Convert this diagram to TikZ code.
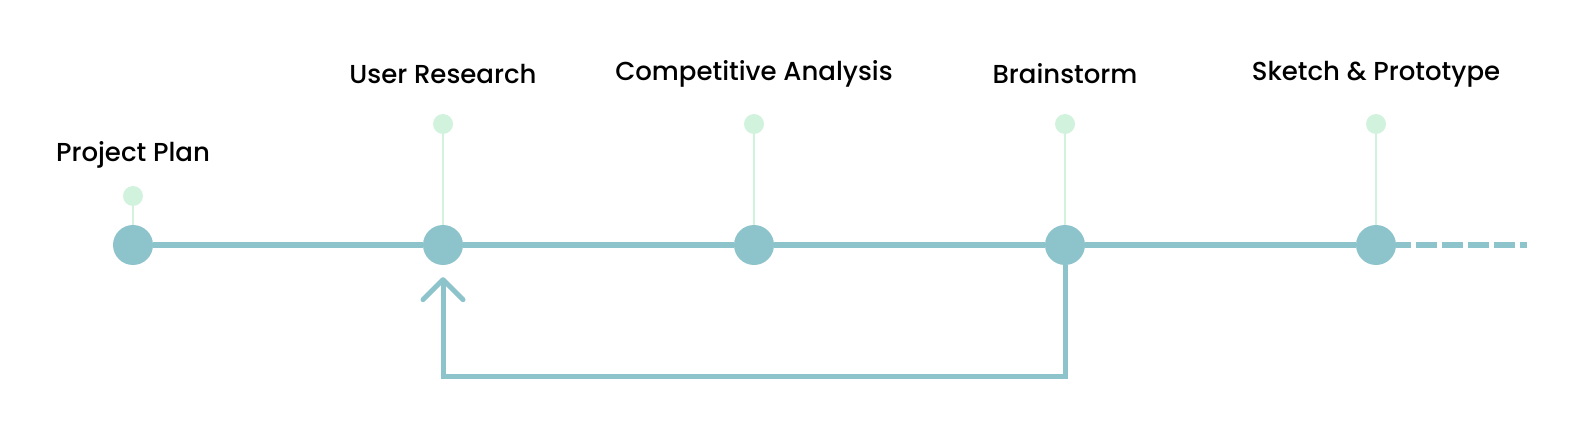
\documentclass[tikz,border=0pt]{standalone}
\usepackage{fontspec}
\setmainfont{Poppins}[BoldFont={* Medium}]
\usetikzlibrary{positioning, arrows.meta, calc}
\definecolor{tealline}{RGB}{141,196,204}
\definecolor{mintdot}{RGB}{209,242,220}

\begin{document}
\begin{tikzpicture}[
    x=1pt, y=-1pt,
    milestone/.style={circle, fill=tealline, minimum size=40pt, inner sep=0pt},
    pin/.style={circle, fill=mintdot, minimum size=20pt, inner sep=0pt},
    stem/.style={draw=mintdot, line width=2pt},
    title/.style={font=\fontsize{26}{31}\selectfont\bfseries, text=black},
    track/.style={draw=tealline, line width=6pt},
    loopback/.style={draw=tealline, line width=5pt, -{Straight Barb[length=20pt, width=40pt, round]}},
]
    \useasboundingbox (0,0) rectangle (1579,433);

    % Timeline
    \node[milestone] (plan) at (133,245) {};
    \node[milestone] (user) at (443,245) {};
    \node[milestone] (comp) at (754,245) {};
    \node[milestone] (brain) at (1065,245) {};
    \node[milestone] (sketch) at (1376,245) {};
    \coordinate (solidend) at (1411,245);
    \coordinate (tailend) at (1527,245);

    \draw[track] (plan) -- (user);
    \draw[track] (user) -- (comp);
    \draw[track] (comp) -- (brain);
    \draw[track] (brain) -- (sketch);
    \draw[track] (sketch) -- (solidend);
    \draw[track, dash pattern=on 21pt off 5pt] ([xshift=5pt]solidend) -- (tailend);

    % Pins
    \node[pin] (planpin) at (133,196) {};
    \node[pin] (userpin) at (443,124) {};
    \node[pin] (comppin) at (754,124) {};
    \node[pin] (brainpin) at (1065,124) {};
    \node[pin] (sketchpin) at (1376,124) {};
    \foreach \m in {plan, user, comp, brain, sketch}
        \draw[stem] (\m pin) -- (\m);

    % Labels
    \node[title] (plantext) at (133,155) {Project Plan};
    \node[title] (usertext) at (443,74) {User Research};
    \node[title] (comptext) at (754,74) {Competitive Analysis};
    \node[title] (braintext) at (1065,74) {Brainstorm};
    \node[title] (sketchtext) at (1376,74) {Sketch \& Prototype};

    % Iteration back to research
    \coordinate (loopcorner) at (1065,376);
    \draw[loopback] (brain.south) -- (loopcorner) -| ([yshift=-12pt]user.south);

\end{tikzpicture}
\end{document}
